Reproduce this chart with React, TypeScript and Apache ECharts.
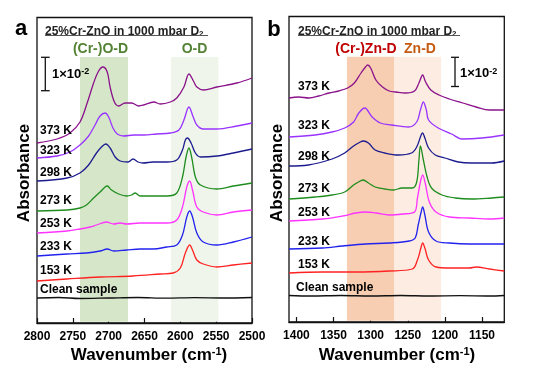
import React, { useEffect, useRef } from "react";
import * as echarts from "echarts";

const FONT = "'Liberation Sans', Arial, Helvetica, sans-serif";

// ---- Panel a: O-D region (wavenumber, relative absorbance; 1e-2 ≈ 33 units) ----
const leftTicks = [2800, 2750, 2700, 2650, 2600, 2550, 2500];
const aClean: [number, number][] = [[2800, 25], [2770, 25.5], [2740, 24.5], [2700, 25], [2660, 25.5], [2620, 24.8], [2580, 25.3], [2540, 25], [2500, 25.5]];
const a153: [number, number][] = [[2800, 42], [2758, 44], [2712, 46], [2666, 47], [2628, 49], [2610, 50], [2600, 55], [2593, 70], [2587, 78], [2583, 73], [2577, 63], [2568, 59], [2549, 56], [2526, 58], [2500, 60]];
const a233: [number, number][] = [[2800, 67], [2758, 69], [2731, 70], [2712, 72], [2702, 74], [2693, 72], [2675, 73], [2656, 74], [2638, 74], [2619, 76], [2605, 78], [2597, 88], [2591, 106], [2587, 112], [2583, 106], [2577, 90], [2568, 81], [2549, 78], [2526, 81], [2500, 86]];
const a253: [number, number][] = [[2800, 90], [2758, 92], [2740, 94], [2726, 96], [2717, 98], [2703, 101], [2693, 99], [2684, 100], [2675, 99], [2656, 100], [2638, 100], [2619, 100], [2605, 103], [2597, 116], [2591, 136], [2587, 142], [2583, 133], [2577, 116], [2568, 111], [2549, 108], [2526, 111], [2500, 113]];
const a273: [number, number][] = [[2800, 112], [2758, 113], [2740, 115], [2731, 118], [2721, 125], [2712, 131], [2705, 136], [2702, 137], [2696, 133], [2686, 129], [2675, 127], [2668, 128], [2663, 130], [2656, 127], [2638, 127], [2619, 127], [2605, 130], [2597, 146], [2592, 166], [2588, 175], [2584, 165], [2579, 146], [2572, 138], [2549, 134], [2526, 137], [2500, 140]];
const a298: [number, number][] = [[2800, 142], [2758, 145], [2740, 150], [2728, 158], [2717, 170], [2710, 176], [2704, 179], [2698, 175], [2691, 166], [2684, 162], [2673, 161], [2666, 164], [2659, 161], [2652, 160], [2638, 161], [2619, 161], [2605, 163], [2597, 173], [2593, 183], [2590, 185], [2585, 180], [2579, 170], [2572, 166], [2549, 167], [2526, 170], [2500, 174]];
const a323: [number, number][] = [[2800, 165], [2772, 167], [2754, 171], [2740, 178], [2728, 187], [2719, 198], [2712, 207], [2705, 210], [2700, 206], [2694, 195], [2688, 189], [2679, 187], [2665, 188], [2651, 188], [2633, 189], [2614, 190], [2602, 193], [2595, 203], [2588, 216], [2582, 206], [2577, 198], [2568, 194], [2549, 194], [2521, 197], [2500, 200]];
const a373: [number, number][] = [[2800, 180], [2772, 184], [2754, 190], [2740, 201], [2730, 220], [2721, 240], [2714, 252], [2708, 256], [2702, 251], [2698, 236], [2692, 221], [2686, 217], [2677, 220], [2668, 220], [2658, 217], [2651, 218], [2637, 221], [2628, 219], [2614, 221], [2605, 225], [2595, 236], [2588, 249], [2581, 241], [2577, 236], [2568, 233], [2549, 236], [2521, 240], [2500, 245]];
const aBands: [number, number][] = [[2740, 2673], [2613, 2547]];

// ---- Panel b: Zn-D region ----
const rightTicks = [1400, 1350, 1300, 1250, 1200, 1150];
const bClean: [number, number][] = [[1410, 26.5], [1380, 26], [1340, 26.5], [1300, 26], [1260, 26.5], [1220, 26], [1180, 26.3], [1140, 26], [1120, 26.5]];
const b153: [number, number][] = [[1410, 49], [1365, 50], [1320, 50], [1275, 51], [1244, 53], [1237, 62], [1232, 75], [1230, 79], [1227, 74], [1222, 62], [1212, 55], [1194, 54], [1167, 54], [1158, 55], [1140, 53], [1120, 51]];
const b233: [number, number][] = [[1410, 73], [1365, 74], [1338, 76], [1307, 78], [1275, 79], [1248, 81], [1240, 84], [1236, 97], [1232, 110], [1230, 115], [1227, 107], [1222, 90], [1212, 81], [1194, 79], [1167, 78], [1140, 78], [1120, 78]];
const b253: [number, number][] = [[1410, 101], [1365, 103], [1338, 106], [1320, 109], [1307, 110], [1293, 109], [1275, 107], [1257, 108], [1241, 110], [1237, 124], [1233, 140], [1230, 147], [1226, 137], [1221, 120], [1212, 110], [1194, 105], [1167, 104], [1140, 103], [1120, 104]];
const b273: [number, number][] = [[1410, 123], [1375, 125], [1352, 127], [1335, 130], [1323, 137], [1314, 141], [1310, 142], [1303, 139], [1294, 135], [1281, 133], [1269, 132], [1258, 134], [1244, 134], [1238, 140], [1235, 162], [1233, 176], [1229, 162], [1224, 145], [1218, 134], [1204, 127], [1186, 124], [1164, 123], [1137, 124], [1120, 125]];
const b298: [number, number][] = [[1410, 156], [1384, 157], [1352, 163], [1335, 169], [1323, 176], [1314, 180], [1310, 181], [1303, 179], [1294, 172], [1281, 169], [1263, 167], [1245, 169], [1238, 175], [1232, 187], [1230, 189], [1227, 184], [1222, 174], [1213, 167], [1200, 164], [1182, 160], [1164, 159], [1137, 159], [1120, 161]];
const b323: [number, number][] = [[1410, 185], [1375, 187], [1352, 190], [1335, 194], [1323, 200], [1316, 209], [1308, 214], [1298, 205], [1287, 199], [1272, 197], [1249, 195], [1238, 200], [1233, 212], [1229, 220], [1225, 212], [1222, 202], [1209, 194], [1191, 188], [1177, 183], [1150, 184], [1120, 187]];
const b373: [number, number][] = [[1410, 224], [1397, 225], [1383, 224], [1370, 226], [1356, 229], [1343, 231], [1331, 234], [1322, 239], [1313, 249], [1307, 255], [1304, 257], [1300, 254], [1293, 242], [1284, 235], [1275, 231], [1266, 230], [1253, 229], [1241, 231], [1235, 239], [1230, 247], [1226, 240], [1219, 232], [1208, 227], [1194, 223], [1176, 219], [1158, 215], [1140, 212], [1120, 212]];
const bBands: [number, number][] = [[1332, 1268], [1268, 1205]];

const tempLabels = ["373 K", "323 K", "298 K", "273 K", "253 K", "233 K", "153 K", "Clean sample"];
const colors = ["#8B128B", "#9933FF", "#1C1C8F", "#1E8C1E", "#FF33FF", "#2222EE", "#FF2222", "#111111"];
const aSeries = [a373, a323, a298, a273, a253, a233, a153, aClean];
const bSeries = [b373, b323, b298, b273, b253, b233, b153, bClean];
const aLabelY = [130, 150, 172, 200, 223, 246, 270, 289];
const bLabelY = [86, 125, 156, 188, 212, 241, 264, 287];

const txt = (text: string, x: number, y: number, size: number, fill = "#000", align = "left", extra: any = {}) => ({
  type: "text",
  x,
  y,
  z: 10,
  style: {
    text,
    fontSize: size,
    fontWeight: "bold",
    fontFamily: FONT,
    fill,
    align,
    verticalAlign: "middle",
    ...extra,
  },
});

const supRich = (size: number) => ({
  sup: { fontSize: size, fontWeight: "bold", fontFamily: FONT, fill: "#000", verticalAlign: "top", lineHeight: size },
});

export default function App() {
  const ref = useRef<HTMLDivElement>(null);
  useEffect(() => {
    if (!ref.current) return;
    const chart = echarts.init(ref.current, null, { renderer: "svg" });

    const xAxisCommon = {
      type: "value",
      inverse: true,
      splitLine: { show: false },
      axisLine: { show: true, lineStyle: { color: "#111", width: 1.3 } },
      axisTick: { show: true, inside: true, length: 5, lineStyle: { color: "#111", width: 1.2 } },
      axisLabel: { fontSize: 12, fontWeight: "bold", fontFamily: FONT, color: "#000", margin: 7, formatter: (v: number) => String(v) },
    };

    const series: any[] = [];
    const addPanel = (idx: number, data: [number, number][][], bands: [number, number][], bandColors: string[], yTop: number) => {
      series.push({
        type: "line",
        xAxisIndex: idx,
        yAxisIndex: idx,
        data: [],
        z: 1,
        silent: true,
        markArea: {
          silent: true,
          label: { show: false },
          data: bands.map((b, i) => [
            { xAxis: b[0], yAxis: 1.3, itemStyle: { color: bandColors[i] } },
            { xAxis: b[1], yAxis: yTop },
          ]),
        },
      });
      data.forEach((d, i) => {
        series.push({
          type: "line",
          name: tempLabels[i],
          xAxisIndex: idx,
          yAxisIndex: idx,
          data: d,
          showSymbol: false,
          symbol: "none",
          smooth: 0.35,
          z: 3,
          lineStyle: { color: colors[i], width: 1.3 },
        });
      });
    };
    addPanel(0, aSeries, aBands, ["#D6E7C9", "#EFF5EA"], 266);
    addPanel(1, bSeries, bBands, ["#F7CEB1", "#FCECE2"], 265.3);

    const subRich = { sub: { fontSize: 8, fontWeight: "bold", fontFamily: FONT, fill: "#222", verticalAlign: "bottom", lineHeight: 8 } };
    const graphic: any[] = [
      txt("a", 21, 27, 22, "#000", "center"),
      txt("b", 274, 28, 22, "#000", "center"),
      txt("25%Cr-ZnO in 1000 mbar D{sub|2}", 45, 31, 12, "#222", "left", { rich: subRich }),
      txt("25%Cr-ZnO in 1000 mbar D{sub|2}", 298, 31, 12, "#222", "left", { rich: subRich }),
      { type: "line", z: 10, shape: { x1: 45, y1: 35.5, x2: 208, y2: 35.5 }, style: { stroke: "#555", lineWidth: 1 } },
      { type: "line", z: 10, shape: { x1: 298, y1: 35.5, x2: 460, y2: 35.5 }, style: { stroke: "#555", lineWidth: 1 } },
      txt("(Cr-)O-D", 100.5, 48, 14, "#548235", "center"),
      txt("O-D", 194.5, 48, 14, "#548235", "center"),
      txt("(Cr-)Zn-D", 366, 48, 14, "#C00000", "center"),
      txt("Zn-D", 420, 48, 14, "#C55A11", "center"),
      // scale bars
      { type: "line", z: 10, shape: { x1: 45.3, y1: 57.3, x2: 45.3, y2: 90.7 }, style: { stroke: "#111", lineWidth: 1.3 } },
      { type: "line", z: 10, shape: { x1: 41, y1: 57.3, x2: 49.7, y2: 57.3 }, style: { stroke: "#111", lineWidth: 1.3 } },
      { type: "line", z: 10, shape: { x1: 41, y1: 90.7, x2: 49.7, y2: 90.7 }, style: { stroke: "#111", lineWidth: 1.3 } },
      txt("1×10{sup|-2}", 52, 73, 13, "#000", "left", { rich: supRich(9) }),
      { type: "line", z: 10, shape: { x1: 455, y1: 57.3, x2: 455, y2: 86.5 }, style: { stroke: "#111", lineWidth: 1.3 } },
      { type: "line", z: 10, shape: { x1: 451, y1: 57.3, x2: 459, y2: 57.3 }, style: { stroke: "#111", lineWidth: 1.3 } },
      { type: "line", z: 10, shape: { x1: 451, y1: 86.5, x2: 459, y2: 86.5 }, style: { stroke: "#111", lineWidth: 1.3 } },
      txt("1×10{sup|-2}", 460, 72.5, 13, "#000", "left", { rich: supRich(9) }),
      // axis names
      { ...txt("Absorbance", 23.5, 173, 17, "#000", "center"), rotation: Math.PI / 2 },
      { ...txt("Absorbance", 276.5, 173, 17, "#000", "center"), rotation: Math.PI / 2 },
      txt("Wavenumber (cm{sup|-1})", 149, 354, 17, "#000", "center", { rich: supRich(11) }),
      txt("Wavenumber (cm{sup|-1})", 397, 354, 17, "#000", "center", { rich: supRich(11) }),
    ];
    tempLabels.forEach((t, i) => {
      graphic.push(txt(t, 40, aLabelY[i], 12));
      graphic.push(txt(t, i === 7 ? 296 : 298, bLabelY[i], 12));
    });

    chart.setOption({
      animation: false,
      grid: [
        { left: 37, top: 17.5, width: 215, height: 305.5, show: true, borderColor: "#111", borderWidth: 1.3, backgroundColor: "transparent" },
        { left: 289, top: 16.5, width: 215.3, height: 305.5, show: true, borderColor: "#111", borderWidth: 1.3, backgroundColor: "transparent" },
      ],
      xAxis: [
        { ...xAxisCommon, gridIndex: 0, min: 2500, max: 2800, interval: 50,
          axisLabel: { ...xAxisCommon.axisLabel, customValues: leftTicks },
          axisTick: { ...xAxisCommon.axisTick, customValues: leftTicks } },
        { ...xAxisCommon, gridIndex: 1, min: 1120, max: 1410,
          axisLabel: { ...xAxisCommon.axisLabel, customValues: rightTicks },
          axisTick: { ...xAxisCommon.axisTick, customValues: rightTicks } },
      ],
      yAxis: [
        { type: "value", gridIndex: 0, min: 0, max: 305.5, show: false },
        { type: "value", gridIndex: 1, min: 0, max: 305.5, show: false },
      ],
      series,
      graphic,
    });
    return () => chart.dispose();
  }, []);
  return <div ref={ref} style={{ position: "fixed", left: 0, top: 0, width: 535, height: 375 }} />;
}
